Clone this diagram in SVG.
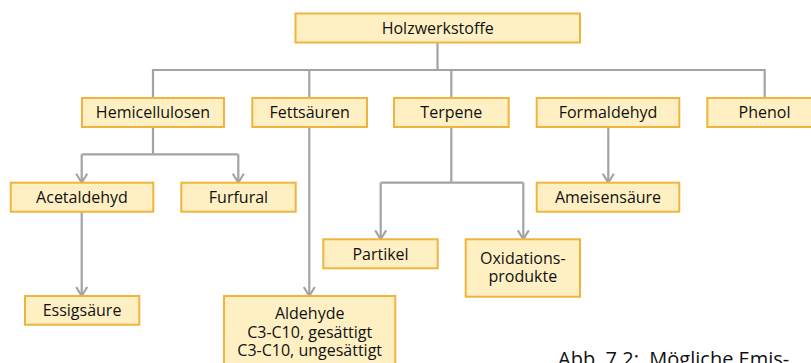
<svg xmlns="http://www.w3.org/2000/svg" width="811" height="363" viewBox="0 0 811 363">
<style>
.box{fill:#FFF0C4;stroke:#F0B43C;stroke-width:2}
.t{font-family:"Open Sans","Noto Sans","Liberation Sans",sans-serif;font-size:16px;fill:#111;text-anchor:middle}
.c{fill:none;stroke:#A3A3A3;stroke-width:2.2}
.cap{font-family:"Open Sans","Noto Sans","Liberation Sans",sans-serif;font-size:20px;fill:#111}
</style>
<defs>
<marker id="arr" markerUnits="userSpaceOnUse" markerWidth="14" markerHeight="14" viewBox="-1 -7 12 14" refX="9" refY="0" orient="auto">
<path d="M0,-5.5 L9,0 L0,5.5" fill="none" stroke="#A3A3A3" stroke-width="2.2"/>
</marker>
</defs>
<rect width="811" height="363" fill="#fff"/>
<g id="connectors">
<path class="c" d="M437.5,42.5 V70"/>
<path class="c" d="M153,98 V70 H764.7 V98"/>
<path class="c" d="M309.3,70 V98"/>
<path class="c" d="M451.3,70 V98"/>
<path class="c" d="M153,127 V154.3"/>
<path class="c" d="M81.7,154.3 H238.3"/>
<path class="c" d="M81.7,154.3 V182.7" marker-end="url(#arr)"/>
<path class="c" d="M238.3,154.3 V182.7" marker-end="url(#arr)"/>
<path class="c" d="M309.3,127 V296" marker-end="url(#arr)"/>
<path class="c" d="M451.3,127 V182.7"/>
<path class="c" d="M380.7,182.7 H523.3"/>
<path class="c" d="M380.7,182.7 V239.3" marker-end="url(#arr)"/>
<path class="c" d="M523.3,182.7 V239.3" marker-end="url(#arr)"/>
<path class="c" d="M608.3,127 V182.7" marker-end="url(#arr)"/>
<path class="c" d="M81.7,211.7 V296" marker-end="url(#arr)"/>
</g>
<g id="holzwerkstoffe"><rect class="box" x="295.5" y="13.5" width="284.5" height="29"/><text class="t" x="437.7" y="33.7">Holzwerkstoffe</text></g>
<g id="hemicellulosen"><rect class="box" x="82" y="98" width="142" height="29"/><text class="t" x="153" y="118.2">Hemicellulosen</text></g>
<g id="fettsaeuren"><rect class="box" x="252.3" y="98" width="114.7" height="29"/><text class="t" x="309.6" y="118.2">Fettsäuren</text></g>
<g id="terpene"><rect class="box" x="394" y="98" width="114.7" height="29"/><text class="t" x="451.3" y="118.2">Terpene</text></g>
<g id="formaldehyd"><rect class="box" x="536.7" y="98" width="142.6" height="29"/><text class="t" x="608" y="118.2">Formaldehyd</text></g>
<g id="phenol"><rect class="box" x="707.3" y="98" width="115" height="29"/><text class="t" x="764.5" y="118.2">Phenol</text></g>
<g id="acetaldehyd"><rect class="box" x="10.7" y="182.7" width="142.6" height="29"/><text class="t" x="82" y="203">Acetaldehyd</text></g>
<g id="furfural"><rect class="box" x="181.3" y="182.7" width="114.4" height="29"/><text class="t" x="238.5" y="203">Furfural</text></g>
<g id="ameisensaeure"><rect class="box" x="536.7" y="182.7" width="142.6" height="29"/><text class="t" x="608" y="203">Ameisensäure</text></g>
<g id="partikel"><rect class="box" x="323.3" y="239.3" width="114.4" height="29"/><text class="t" x="380.5" y="259.6">Partikel</text></g>
<g id="oxidationsprodukte"><rect class="box" x="465.7" y="239.3" width="114.3" height="57.4"/><text class="t" x="522.8" y="263.8">Oxidations-</text><text class="t" x="522.8" y="282.2">produkte</text></g>
<g id="essigsaeure"><rect class="box" x="25" y="296" width="114.3" height="28.7"/><text class="t" x="82" y="316.2">Essigsäure</text></g>
<g id="aldehyde"><rect class="box" x="224" y="296" width="171.3" height="72"/><text class="t" x="309.7" y="319.2">Aldehyde</text><text class="t" x="309.7" y="337.6">C3-C10, gesättigt</text><text class="t" x="309.7" y="356">C3-C10, ungesättigt</text></g>
<text class="cap" x="558" y="366" xml:space="preserve">Abb. 7.2:  Mögliche Emis-</text>
</svg>
